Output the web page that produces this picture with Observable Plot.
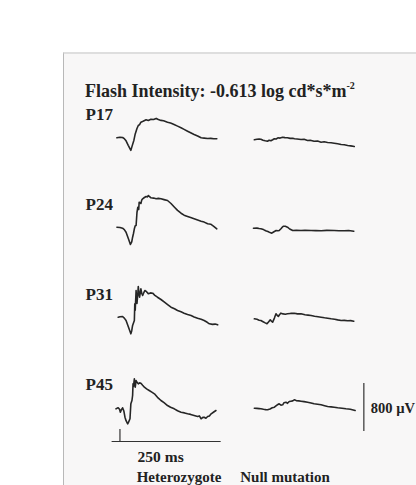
<!DOCTYPE html>
<html><head><meta charset="utf-8">
<script src="https://cdn.jsdelivr.net/npm/d3@7"></script>
<script src="https://cdn.jsdelivr.net/npm/@observablehq/plot@0.6"></script>
<style>
body{margin:0;background:#fff;}
#wrap{position:relative;width:416px;height:485px;overflow:hidden;background:#fff;}
#panel{position:absolute;left:63px;top:52px;width:420px;height:480px;background:#f8f7f7;border-left:1.5px solid #b8b8b8;border-top:2px solid #dedede;}
#title{position:absolute;left:85px;top:81px;font:bold 18px "Liberation Serif","Times New Roman",serif;color:#222;white-space:nowrap;}
#title sup{font-size:10px;vertical-align:8px;line-height:0;}
#chart{position:absolute;left:0;top:0;}
</style></head><body>
<div id="wrap"><div id="panel"></div><div id="title">Flash Intensity: -0.613 log cd*s*m<sup>-2</sup></div><div id="chart"></div></div>
<script>
// categories
const ages = ["P17", "P24", "P31", "P45"];
const genotypes = ["Heterozygote", "Null mutation"];

// traces: [time ms, amplitude µV]
const hetP17 = [[-7,-5],[0,5],[6,0],[10,-20],[14,-55],[19,-130],[25,-215],[28,-140],[32,-45],[35,60],[39,150],[42,200],[45,215],[48,255],[53,270],[60,295],[65,285],[71,305],[77,300],[83,318],[88,300],[94,285],[100,278],[109,255],[116,240],[124,218],[132,190],[140,162],[147,135],[155,105],[162,80],[170,50],[178,25],[186,-5],[193,-10],[201,-17],[208,-15],[215,-22],[222,-20]];
const nullP17 = [[-6,-38],[0,-30],[5,-25],[9,-28],[14,-45],[19,-55],[24,-62],[28,-45],[32,-55],[36,-38],[40,-20],[44,-25],[48,-5],[53,-10],[59,5],[64,-2],[70,-5],[76,-15],[82,-12],[86,-22],[92,-25],[101,-33],[108,-30],[116,-50],[122,-45],[131,-62],[139,-60],[147,-78],[154,-72],[162,-83],[170,-88],[177,-95],[185,-105],[193,-117],[200,-120],[208,-133],[215,-140],[223,-150]];
const hetP24 = [[-7,5],[0,0],[6,-12],[10,-35],[14,-78],[19,-180],[24,-283],[27,-240],[29,-162],[31,-100],[33,-22],[35,30],[37,33],[39,250],[41,338],[43,300],[44,422],[46,410],[48,400],[50,460],[52,478],[56,500],[60,517],[63,510],[65,533],[68,515],[71,495],[77,490],[83,478],[88,485],[94,478],[101,465],[109,450],[117,400],[125,338],[132,285],[140,238],[147,205],[155,183],[162,165],[170,145],[178,125],[186,105],[193,90],[201,62],[208,55],[215,20],[222,-22]];
const nullP24 = [[-8,-12],[0,-10],[5,-18],[9,-22],[15,-35],[20,-55],[25,-67],[30,-85],[34,-95],[38,-75],[44,-50],[48,-55],[51,-50],[55,-20],[58,5],[61,22],[65,20],[70,5],[75,-25],[82,-50],[90,-48],[101,-50],[110,-48],[124,-50],[135,-52],[147,-55],[160,-48],[177,-50],[188,-55],[200,-55],[210,-50],[222,-62]];
const hetP31 = [[-4,5],[0,12],[6,17],[10,-10],[14,-50],[19,-150],[25,-272],[27,-220],[29,-133],[31,-90],[33,-50],[34,228],[35,120],[37,450],[38,300],[39,233],[41,400],[42,517],[44,380],[45,338],[47,430],[48,478],[50,400],[52,367],[55,420],[57,450],[61,430],[65,395],[70,410],[75,405],[80,370],[86,338],[94,300],[102,255],[110,210],[117,172],[125,145],[132,117],[140,95],[147,72],[155,50],[163,33],[170,10],[178,-12],[186,-30],[193,-50],[200,-80],[205,-105],[212,-115],[218,-110],[224,-122]];
const nullP31 = [[-6,-22],[0,-30],[5,-45],[9,-50],[14,-70],[19,-90],[23,-105],[27,-70],[30.5,-38],[33,-60],[36,-78],[40,-10],[43.6,62],[46,40],[49,17],[52,50],[55,72],[60,60],[65,55],[70,62],[77,68],[85.5,72],[93,60],[101,62],[110,45],[117,40],[124,33],[132,20],[140,12],[147,5],[155,-5],[162,-12],[170,-22],[178,-30],[185,-40],[193,-50],[200,-48],[208,-55],[215,-52],[222,-62]];
const hetP45 = [[-9,-22],[-6,-10],[-4,-5],[-1,-30],[1,-78],[3,-40],[6,-5],[9,-60],[11.5,-162],[14,-220],[17.7,-272],[20,-240],[23,-188],[25,62],[27.5,117],[29,200],[30,395],[31,350],[33,478],[35,338],[37,450],[39,420],[42,395],[45,410],[48,405],[52,370],[56,338],[61,310],[67,283],[73,255],[79,228],[86,170],[94,117],[101,80],[109,33],[116,5],[124.5,-22],[132,-55],[140,-78],[148,-90],[155,-105],[162,-115],[170,-133],[178,-150],[182,-140],[186,-188],[190,-165],[193,-162],[197,-180],[201,-150],[205,-140],[209,-105],[215,-75],[220,-50]];
const nullP45 = [[-6,-12],[0,-15],[5,-18],[9,-22],[15,-30],[20,-35],[24.5,-38],[30,-25],[35,-5],[40,5],[45,35],[48,50],[51,62],[55,40],[59,45],[62,80],[66.5,88],[70,70],[74,100],[78,105],[82,110],[85.5,128],[90,115],[96,110],[101,105],[108,98],[116,88],[124,75],[131,62],[139,55],[147,45],[155,30],[162,17],[170,10],[177,5],[185,-5],[195,-12],[204,-22],[214,-30],[225,-50]];

// calibration bars
const timeBarMs = [-18, 232];      // 250 ms
const timeBarLevel = -567;          // µV, below the P45 trace
const flashTick = [-567, -367];     // flash marker at t = 0
const voltBar = [-400, 400];        // 800 µV
const voltBarTime = 245;            // ms, right of null traces
const timeLabel = "250 ms";
const voltLabel = "800 µV";

const traces = {
  "Heterozygote": [hetP17, hetP24, hetP31, hetP45],
  "Null mutation": [nullP17, nullP24, nullP31, nullP45]
};
const rows = [];
for (const g of genotypes) traces[g].forEach((tr, i) => tr.forEach(([t, v]) => rows.push({genotype: g, age: ages[i], t, v})));

const font = '"Liberation Serif","Times New Roman",serif';
const ink = "#222";
const last = ages[ages.length - 1];

const chart = Plot.plot({
  width: 416, height: 485,
  marginLeft: 101.6, marginRight: 40.4, marginTop: 101, marginBottom: 24,
  x: {domain: [-40, 274], axis: null},
  y: {domain: [-900, 600], axis: null},
  fx: {domain: genotypes, padding: 0, axis: null},
  fy: {domain: ages, padding: 0, axis: null},
  style: {background: "transparent", overflow: "visible", fontFamily: font},
  marks: [
    Plot.line(rows, {x: "t", y: "v", fx: "genotype", fy: "age", stroke: "#262626", strokeWidth: 1.6, strokeLinejoin: "round"}),
    // age labels
    Plot.text(ages, {fx: () => genotypes[0], fy: d => d, text: d => d, frameAnchor: "top-left", dx: -17, dy: 6, lineAnchor: "top", textAnchor: "start", fontSize: 17, fontWeight: "bold", fill: ink}),
    // time calibration
    Plot.ruleY([timeBarLevel], {fx: () => genotypes[0], fy: () => last, x1: timeBarMs[0], x2: timeBarMs[1], stroke: "#333", strokeWidth: 1.2}),
    Plot.ruleX([0], {fx: () => genotypes[0], fy: () => last, y1: flashTick[0], y2: flashTick[1], stroke: "#333", strokeWidth: 1.2}),
    Plot.text([timeLabel], {fx: () => genotypes[0], fy: () => last, x: (timeBarMs[0] + timeBarMs[1]) / 2, y: timeBarLevel, text: d => d, dx: -6, dy: 16, lineAnchor: "middle", fontSize: 15.5, fontWeight: "bold", fill: ink}),
    // voltage calibration
    Plot.ruleX([voltBarTime], {fx: () => genotypes[1], fy: () => last, y1: voltBar[0], y2: voltBar[1], stroke: "#333", strokeWidth: 1.2}),
    Plot.text([voltLabel], {fx: () => genotypes[1], fy: () => last, x: voltBarTime, y: (voltBar[0] + voltBar[1]) / 2, text: d => d, dx: 7, dy: 1, textAnchor: "start", lineAnchor: "middle", fontSize: 14.5, fontWeight: "bold", fill: ink}),
    // genotype labels
    Plot.text([genotypes[0]], {fx: d => d, fy: () => last, text: d => d, frameAnchor: "bottom", dx: 8, dy: 20, lineAnchor: "bottom", fontSize: 15, fontWeight: "bold", fill: ink}),
    Plot.text([genotypes[1]], {fx: d => d, fy: () => last, text: d => d, frameAnchor: "bottom", dx: -23, dy: 20, lineAnchor: "bottom", fontSize: 15, fontWeight: "bold", fill: ink})
  ]
});
document.getElementById("chart").append(chart);
</script>
</body></html>
